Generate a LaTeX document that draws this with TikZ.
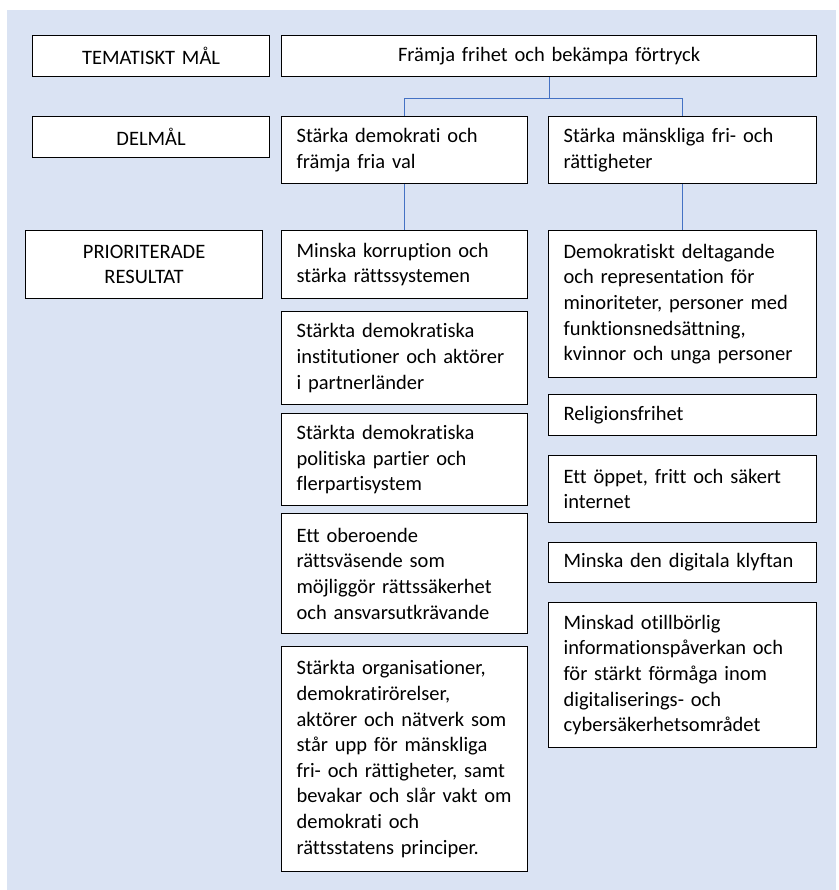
\documentclass[tikz,border=0pt]{standalone}
\usepackage{fontspec}
\setmainfont{Carlito}[Ligatures=NoCommon]
\usetikzlibrary{calc}
\definecolor{panelblue}{HTML}{DAE3F3}
\definecolor{linkblue}{HTML}{4472C4}
\tikzset{
  goalbox/.style={draw, fill=white, line width=1.2pt, anchor=north west,
    align=left, inner xsep=15pt, inner ysep=0pt,
    font=\fontsize{20.5}{25.6}\selectfont},
  levelbox/.style={goalbox, align=center},
  link/.style={draw=linkblue, line width=0.9pt}
}
\begin{document}
\begin{tikzpicture}[x=1pt, y=-1pt]
\useasboundingbox (0,0) rectangle (838,890);
\fill[panelblue] (7,10) rectangle (836,890);

% left column
\node[levelbox, text width=207pt, minimum width=237pt, minimum height=41pt] (tm) at (32,35) {TEMATISKT MÅL};
\node[levelbox, text width=207pt, minimum width=237pt, minimum height=41pt] (dm) at (32,116) {DELMÅL};
\node[levelbox, text width=207pt, minimum width=237pt, minimum height=68pt] (pr) at (25,230) {PRIORITERADE\\RESULTAT};

% top goal
\node[levelbox, text width=505pt, minimum width=535pt, minimum height=41pt] (top) at (281,35) {Främja frihet och bekämpa förtryck};

% sub goals
\node[goalbox, text width=216pt, minimum width=246pt, minimum height=67pt] (sub1) at (281,116) {Stärka demokrati och\\främja fria val};
\node[goalbox, text width=238pt, minimum width=268pt, minimum height=67pt] (sub2) at (548,116) {Stärka mänskliga fri- och\\rättigheter};

% results, middle
\node[goalbox, text width=216pt, minimum width=246pt, minimum height=68pt] (r1) at (281,230) {Minska korruption och\\stärka rättssystemen};
\node[goalbox, text width=216pt, minimum width=246pt, minimum height=93pt] (r2) at (281,311) {Stärkta demokratiska\\institutioner och aktörer\\i partnerländer};
\node[goalbox, text width=216pt, minimum width=246pt, minimum height=92pt] (r3) at (281,413) {Stärkta demokratiska\\politiska partier och\\flerpartisystem};
\node[goalbox, text width=216pt, minimum width=246pt, minimum height=120pt] (r4) at (281,513) {Ett oberoende\\rättsväsende som\\möjliggör rättssäkerhet\\och ansvarsutkrävande};
\node[goalbox, text width=216pt, minimum width=246pt, minimum height=225pt] (r5) at (281,646) {Stärkta organisationer,\\demokratirörelser,\\aktörer och nätverk som\\står upp för mänskliga\\fri- och rättigheter, samt\\bevakar och slår vakt om\\demokrati och\\rättsstatens principer.};

% results, right
\node[goalbox, text width=238pt, minimum width=268pt, minimum height=147pt] (s1) at (548,230) {Demokratiskt deltagande\\och representation för\\minoriteter, personer med\\funktionsnedsättning,\\kvinnor och unga personer};
\node[goalbox, text width=238pt, minimum width=268pt, minimum height=41pt] (s2) at (548,394) {Religionsfrihet};
\node[goalbox, text width=238pt, minimum width=268pt, minimum height=67pt] (s3) at (548,455) {Ett öppet, fritt och säkert\\internet};
\node[goalbox, text width=238pt, minimum width=268pt, minimum height=40pt] (s4) at (548,542) {Minska den digitala klyftan};
\node[goalbox, text width=238pt, minimum width=268pt, minimum height=145pt] (s5) at (548,602) {Minskad otillbörlig\\informationspåverkan och\\för stärkt förmåga inom\\digitaliserings- och\\cybersäkerhetsområdet};

% connectors
\coordinate (fork) at ($(top.south)+(0,21)$);
\draw[link] (top.south) -- (fork);
\draw[link] (fork) -| (sub1.north);
\draw[link] (fork) -| (sub2.north);
\draw[link] (sub1.south) -- (r1.north);
\draw[link] (sub2.south) -- (s1.north);
\end{tikzpicture}
\end{document}
